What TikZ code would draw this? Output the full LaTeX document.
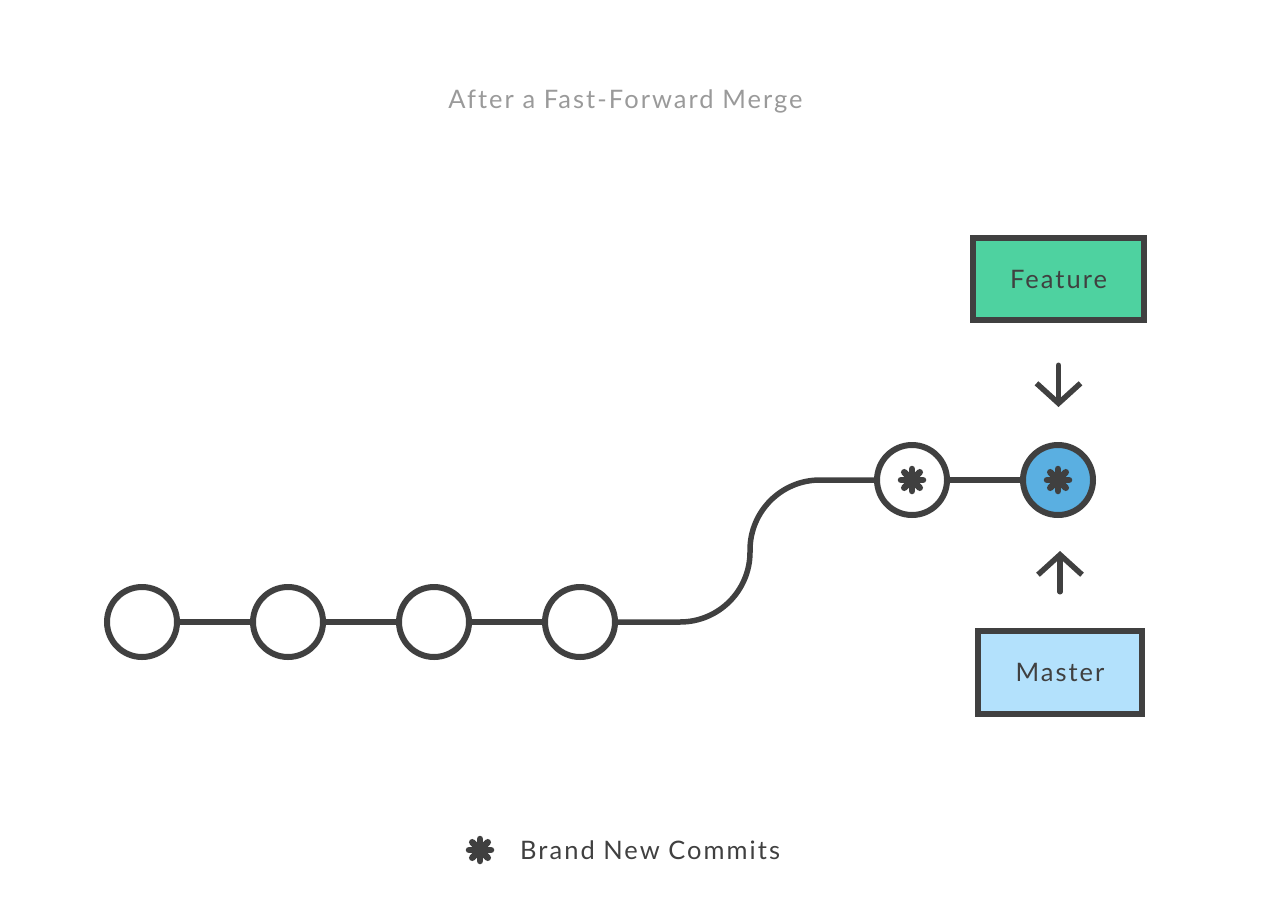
\documentclass[tikz,border=0pt]{standalone}
\usepackage{fontspec}
\setmainfont[LetterSpace=8, Ligatures=NoCommon]{Lato}
\usetikzlibrary{positioning, arrows.meta}
\definecolor{ink}{HTML}{404040}
\definecolor{titlegray}{HTML}{9A9A9A}
\definecolor{featuregreen}{HTML}{4ED2A0}
\definecolor{masterblue}{HTML}{B3E1FC}
\definecolor{tipblue}{HTML}{5AAFE1}
\tikzstyle{commit} = [draw=ink, circle, line width=0.12cm,
    fill=white, minimum size=1.4cm, inner sep=0pt]
\tikzstyle{newcommit} = [commit, path picture={
    \foreach \a in {0,45,90,135}
        \draw[ink, line width=0.13cm, line cap=round]
            ($(path picture bounding box.center)+(\a:0.22)$)
            -- ($(path picture bounding box.center)+(\a+180:0.22)$);
    }]
\tikzstyle{branch} = [draw=ink, rectangle, line width=0.13cm,
    font=\fontsize{14.5}{16}\selectfont\color{ink}]
\tikzstyle{history} = [ink, line width=0.11cm]
\tikzstyle{pointer} = [ink, line width=0.11cm, line cap=round,
    -{Straight Barb[length=0.4cm, width=0.88cm, line width=0.11cm]}]
\usetikzlibrary{calc}

\begin{document}
\begin{tikzpicture}[auto, node distance=2.92cm]
        \useasboundingbox (0,0) rectangle (25.76,18.2);

        \node[titlegray, font=\fontsize{14.5}{16}\selectfont]
            (title) at (12.51,16.18) {After a Fast-Forward Merge};

        \node[commit] (c1) at (2.84,5.76) {};
        \node[commit, right of=c1] (c2) {};
        \node[commit, right of=c2] (c3) {};
        \node[commit, right of=c3] (c4) {};

        \node[newcommit] (n1) at (18.24,8.6) {};
        \node[newcommit, fill=tipblue, right of=n1] (tip) {};

        \node[
            branch,
            fill=featuregreen,
            minimum width=3.42cm, minimum height=1.64cm
        ](feature) at (21.17,12.62) {Feature};

        \node[
            branch,
            fill=masterblue,
            minimum width=3.28cm, minimum height=1.66cm
        ](master) at (21.2,4.75) {Master};

        \draw[history] (c1) -- (c2);
        \draw[history] (c2) -- (c3);
        \draw[history] (c3) -- (c4);
        \draw[history, rounded corners=1.4cm]
            (c4.east) -- (c4.east -| 15,0) -- (n1.west -| 15,0) -- (n1.west);
        \draw[history] (n1) -- (tip);

        \draw[pointer, shorten <=0.84cm, shorten >=0.7cm]
            (feature.south) -- (feature.south |- tip.north);
        \draw[pointer, shorten <=0.72cm, shorten >=0.66cm]
            (master.north) -- (master.north |- tip.south);

        % legend
        \node[newcommit, draw=none, fill=none] (key) at (9.6,1.2) {};
        \node[right=-0.08cm of key, ink, font=\fontsize{14.5}{16}\selectfont]
            (keytext) {Brand New Commits};
    \end{tikzpicture}
\end{document}
